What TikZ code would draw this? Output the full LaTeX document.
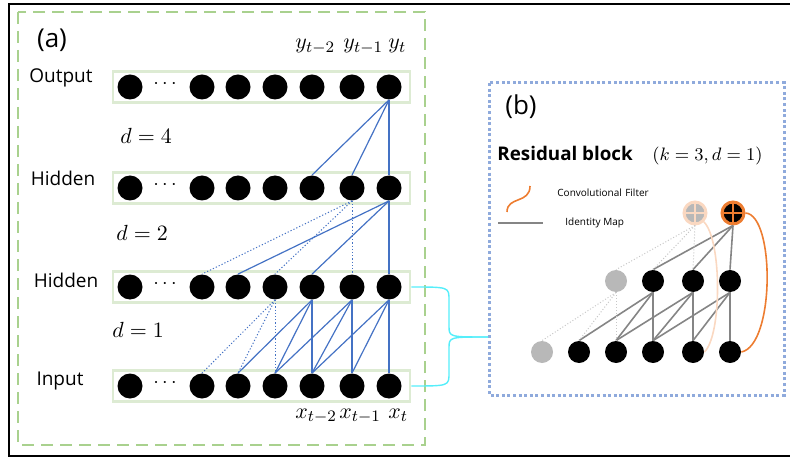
\documentclass[tikz,border=0pt]{standalone}
\usepackage{fontspec}
\setmainfont{Open Sans}
\usetikzlibrary{calc}

\definecolor{netblue}{HTML}{4472C4}
\definecolor{boxgreen}{HTML}{A9D18E}
\definecolor{rowgreen}{HTML}{DDEBD3}
\definecolor{dotblue}{HTML}{8FAADC}
\definecolor{filterorange}{HTML}{ED7D31}
\definecolor{bracecyan}{HTML}{55EEFA}

\begin{document}
\begin{tikzpicture}[x=0.5pt,y=-0.5pt,
  unit/.style={circle,fill=black,inner sep=0pt,minimum size=12.5pt},
  smallunit/.style={circle,fill=black,inner sep=0pt,minimum size=11pt},
  ghostunit/.style={smallunit,fill=black!28},
  rowbox/.style={draw=rowgreen,line width=1.4pt,minimum width=148.5pt,minimum height=15.5pt,inner sep=0pt},
  link/.style={netblue,line width=0.6pt},
  ident/.style={black!48,line width=0.8pt},
  ghostlink/.style={black!22,line width=0.5pt,densely dotted},
  filter/.style={filterorange,line width=0.8pt},
  sumnode/.style={circle,inner sep=0pt,minimum size=11pt,line width=1.5pt,
    path picture={\draw[#1,line width=1pt]
      (path picture bounding box.north) -- (path picture bounding box.south)
      (path picture bounding box.west) -- (path picture bounding box.east);}},
  lab/.style={font=\fontsize{9.5}{11}\selectfont},
  mathlab/.style={font=\fontsize{11}{13}\selectfont,inner sep=0pt},
]

\useasboundingbox (0,0) rectangle (790,459);

% frames
\draw[line width=1.4pt] (790,4) -- (9,4) -- (9,456) -- (790,456);
\draw[boxgreen,line width=1.4pt,dash pattern=on 6pt off 3.5pt] (18,12) rectangle (425,445);
\draw[dotblue,line width=1.5pt,dash pattern=on 1.5pt off 1.3pt] (489,83) rectangle (784,395);

% (a) dilated causal convolutions
\node[font=\fontsize{13}{15}\selectfont] (tag-a) at (52,40) {(a)};

\foreach \row/\ypos in {out/87,hidA/188,hidB/287,inp/386} {
    \node[rowbox] (\row-box) at (261.5,\ypos) {};
    \node[unit] (\row-0) at (130,\ypos) {};
    \node (\row-dots) at (165,\ypos-3) {$\cdots$};
    \foreach \i/\xpos in {1/202,2/238,3/275,4/312,5/352,6/389}
        \node[unit] (\row-\i) at (\xpos,\ypos) {};
}

\node[lab] (lab-out) at (61,78) {Output};
\node[lab] (lab-hidA) at (63,178) {Hidden};
\node[lab] (lab-hidB) at (66,280) {Hidden};
\node[lab] (lab-inp) at (60,381) {Input};

\node[mathlab,anchor=base west] (y-2) at (295,49) {$y_{t-2}$};
\node[mathlab,anchor=base west] (y-1) at (343,49) {$y_{t-1}$};
\node[mathlab,anchor=base west] (y-0) at (388,49) {$y_t$};
\node[mathlab,anchor=base west] (x-2) at (295,418) {$x_{t-2}$};
\node[mathlab,anchor=base west] (x-1) at (339,418) {$x_{t-1}$};
\node[mathlab,anchor=base west] (x-0) at (388,418) {$x_t$};

\node[mathlab,anchor=base west] (dil-4) at (120,144) {$d=4$};
\node[mathlab,anchor=base west] (dil-2) at (116,241) {$d=2$};
\node[mathlab,anchor=base west] (dil-1) at (112,337) {$d=1$};

% d = 4
\foreach \j in {4,5,6}
    \draw[link] (out-6.south) -- (hidA-\j.north);
% d = 2
\foreach \j in {2,4,6}
    \draw[link] (hidA-6.south) -- (hidB-\j.north);
\foreach \j in {1,3,5}
    \draw[link,densely dotted,line width=0.5pt] (hidA-5.south) -- (hidB-\j.north);
% d = 1
\foreach \i in {4,5,6} {
    \foreach \k in {0,1,2} {
        \pgfmathtruncatemacro{\j}{\i-\k}
        \draw[link] (hidB-\i.south) -- (inp-\j.north);
    }
}
\foreach \j in {1,2,3}
    \draw[link,densely dotted,line width=0.5pt] (hidB-3.south) -- (inp-\j.north);

% brace to the residual block
\coordinate (tip) at (488,337);
\draw[bracecyan,line width=0.7pt] (hidB-box.east) .. controls (449,287) .. (449,300)
    -- (449,326) .. controls (449,337) .. (tip);
\draw[bracecyan,line width=0.7pt] (inp-box.east) .. controls (449,386) .. (449,373)
    -- (449,348) .. controls (449,337) .. (tip);

% (b) residual block
\node[font=\fontsize{13}{15}\selectfont] (tag-b) at (521,107) {(b)};
\node[font=\fontsize{9.4}{11}\selectfont\bfseries,anchor=base west,inner sep=0pt] (title) at (497,161) {Residual block};
\node[font=\fontsize{9}{11}\selectfont,anchor=base west,inner sep=0pt] (kd) at (652,161) {$(k=3,d=1)$};

\draw[filter] (507,212) .. controls (507,196) and (530,204) .. (530,186);
\node[font=\fontsize{5}{6}\selectfont,anchor=west,inner sep=0pt] (leg-conv) at (557,193) {Convolutional\,\,Filter};
\draw[ident,line width=1pt] (498,223) -- (543,223);
\node[font=\fontsize{5}{6}\selectfont,anchor=west,inner sep=0pt] (leg-id) at (565,223) {Identity Map};

\node[sumnode=filterorange!30,fill=black!28,draw=filterorange!30] (top-5) at (695,213) {};
\node[sumnode=filterorange,fill=black,draw=filterorange] (top-6) at (733,213) {};

\node[ghostunit] (mid-3) at (616,281) {};
\foreach \i/\xpos in {4/653,5/693,6/730}
    \node[smallunit] (mid-\i) at (\xpos,281) {};
\node[ghostunit] (bot-1) at (542,352) {};
\foreach \i/\xpos in {2/579,3/616,4/653,5/693,6/730}
    \node[smallunit] (bot-\i) at (\xpos,352) {};

\foreach \j in {4,5,6}
    \draw[ident] (top-6.south) -- (mid-\j.north);
\foreach \j in {3,4,5}
    \draw[ghostlink] (top-5.south) -- (mid-\j.north);
\foreach \i in {4,5,6} {
    \foreach \k in {0,1,2} {
        \pgfmathtruncatemacro{\j}{\i-\k}
        \draw[ident] (mid-\i.south) -- (bot-\j.north);
    }
}
\foreach \j in {1,2,3}
    \draw[ghostlink] (mid-3.south) -- (bot-\j.north);

\draw[filter,filterorange!30] (top-5.south east) .. controls (722,240) and (722,335) .. (bot-5.east);
\draw[filter] (bot-6.east) .. controls (775,345) and (775,215) .. (top-6.east);

\end{tikzpicture}
\end{document}
